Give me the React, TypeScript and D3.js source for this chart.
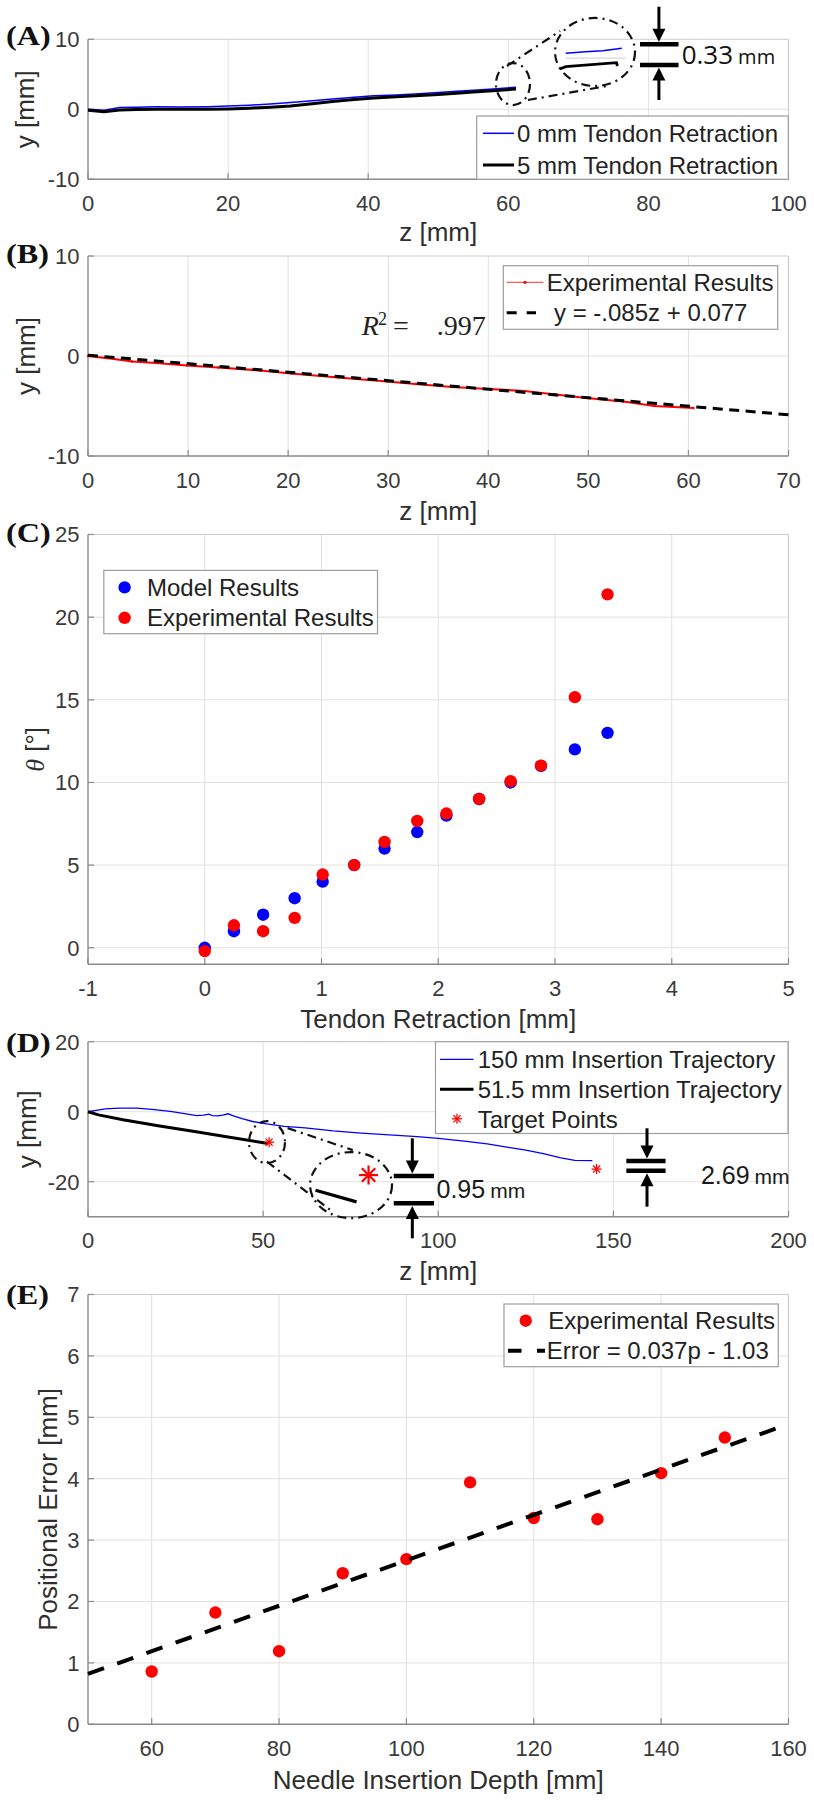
import React from 'react';
import * as d3 from 'd3';

const SANS = "'Liberation Sans', Arial, Helvetica, sans-serif";
const SERIF = "'Liberation Serif', 'Times New Roman', serif";
const OPEN = "'Open Sans', 'Liberation Sans', sans-serif";
const TICK_C = '#3a3a3a';
const LABEL_C = '#2e2e2e';
const AXIS_C = '#8a8a8a';
const BOX_C = '#cccccc';
const GRID_C = '#e0e0e0';
const LEG_BORDER = '#9e9e9e';
const BLUE = '#0000ff';
const RED = '#ff0000';
const DASHDOT = '9,5,2,5';

const PL = 88;
const PR = 788.5;

// ---------------- Panel (A) ----------------
const aZ = [0, 2.3, 4.5, 7, 9.7, 13, 17.1, 20, 23, 26, 28.9, 32, 34.9, 38, 40.8, 44, 46.7, 50, 52.6, 55, 57.8, 61.1];
const aYRet0 = [0, -0.15, 0.24, 0.3, 0.34, 0.32, 0.36, 0.45, 0.58, 0.76, 0.97, 1.2, 1.45, 1.72, 1.93, 2.05, 2.17, 2.38, 2.56, 2.72, 2.9, 3.14];
const aYRet5 = [-0.15, -0.34, -0.12, -0.05, 0, 0, 0, 0.05, 0.15, 0.3, 0.48, 0.8, 1.1, 1.38, 1.59, 1.78, 1.93, 2.1, 2.27, 2.45, 2.66, 2.9];
const aXTicks = [0, 20, 40, 60, 80, 100];
const aYTicks = [-10, 0, 10];
const aLegend = ['0 mm Tendon Retraction', '5 mm Tendon Retraction'];

// ---------------- Panel (B) ----------------
const bZ = [0, 2.6, 4.4, 6.8, 9.9, 13, 17.2, 20.3, 25, 29.9, 32.7, 36.4, 40, 43.6, 46.7, 49.8, 53.5, 56.6, 60.5];
const bY = [0, -0.3, -0.55, -0.7, -0.95, -1.15, -1.45, -1.75, -2.15, -2.55, -2.8, -3.1, -3.3, -3.5, -3.85, -4.2, -4.55, -5.0, -5.2];
const bFitZ = [0, 70];
const bFitY = [0.077, -5.873];
const bXTicks = [0, 10, 20, 30, 40, 50, 60, 70];
const bYTicks = [-10, 0, 10];
const bLegend = ['Experimental Results', 'y = -.085z + 0.077'];

// ---------------- Panel (C) ----------------
const cRetraction = [0, 0.25, 0.5, 0.77, 1.01, 1.28, 1.54, 1.82, 2.07, 2.35, 2.62, 2.88, 3.17, 3.45];
const cModel = [0, 1, 2, 3, 4, 5, 6, 7, 8, 9, 10, 11, 12, 13];
const cExperimental = [-0.2, 1.36, 1.0, 1.81, 4.43, 5.0, 6.4, 7.67, 8.12, 9.0, 10.08, 11.02, 15.16, 21.38];
const cXTicks = [-1, 0, 1, 2, 3, 4, 5];
const cYTicks = [0, 5, 10, 15, 20, 25];
const cLegend = ['Model Results', 'Experimental Results'];

// ---------------- Panel (D) ----------------
const dZ150 = [0, 5, 9, 14, 19, 24, 28, 31, 33, 34.5, 35.5, 37, 38.5, 40, 41.5, 44, 47, 51, 56, 62, 70, 78, 86, 94, 100, 108, 114, 120, 125, 130, 135, 139, 144];
const dY150 = [0, 0.8, 1.0, 1.0, 0.6, 0.0, -0.6, -1.1, -1.0, -0.7, -1.1, -1.2, -1.0, -0.6, -1.2, -2.0, -2.8, -3.5, -4.2, -4.6, -5.5, -6.1, -6.6, -7.1, -7.6, -8.5, -9.2, -10.2, -11.0, -12.0, -13.2, -13.9, -14.0];
const dZ51 = [0, 3, 10, 20, 30, 40, 51.5];
const dY51 = [0, -0.9, -2.3, -4.0, -5.6, -7.2, -9.1];
const dTargetZ = [51.7, 145.2];
const dTargetY = [-8.7, -16.4];
const dXTicks = [0, 50, 100, 150, 200];
const dYTicks = [-20, 0, 20];
const dLegend = ['150 mm Insertion Trajectory', '51.5 mm Insertion Trajectory', 'Target Points'];

// ---------------- Panel (E) ----------------
const eDepth = [60, 70, 80, 90, 100, 110, 120, 130, 140, 150];
const eError = [0.86, 1.82, 1.19, 2.46, 2.69, 3.94, 3.36, 3.34, 4.09, 4.67];
const eFitP = [50, 160];
const eFitE = [0.82, 4.89];
const eXTicks = [60, 80, 100, 120, 140, 160];
const eYTicks = [0, 1, 2, 3, 4, 5, 6, 7];
const eLegend = ['Experimental Results', 'Error = 0.037p - 1.03'];

type Sc = d3.ScaleLinear<number, number>;

const pairs = (xs: number[], ys: number[]) => xs.map((x, i) => [x, ys[i]] as [number, number]);

function lineFor(xs: Sc, ys: Sc) {
  return d3.line<[number, number]>().x(d => xs(d[0])).y(d => ys(d[1]));
}

function Axes(p: {
  xs: Sc; ys: Sc; xTicks: number[]; yTicks: number[];
  xLabel: string; xLabelY: number; yLabel: React.ReactNode; yLabelX: number;
  tag: string; tagY: number;
}) {
  const [x0, x1] = p.xs.range();
  const [yb, yt] = p.ys.range();
  const cx = (x0 + x1) / 2;
  const cy = (yb + yt) / 2;
  return (
    <g>
      {p.xTicks.filter(t => Math.abs(p.xs(t) - x0) > 1 && Math.abs(p.xs(t) - x1) > 1).map(t => (
        <line key={'gx' + t} x1={p.xs(t)} x2={p.xs(t)} y1={yt} y2={yb} stroke={GRID_C} strokeWidth={1} />
      ))}
      {p.yTicks.filter(t => Math.abs(p.ys(t) - yb) > 1 && Math.abs(p.ys(t) - yt) > 1).map(t => (
        <line key={'gy' + t} x1={x0} x2={x1} y1={p.ys(t)} y2={p.ys(t)} stroke={GRID_C} strokeWidth={1} />
      ))}
      <line x1={x0} x2={x1} y1={yt} y2={yt} stroke={BOX_C} strokeWidth={1.2} />
      <line x1={x1} x2={x1} y1={yt} y2={yb} stroke={BOX_C} strokeWidth={1.2} />
      <line x1={x0} x2={x1} y1={yb} y2={yb} stroke={AXIS_C} strokeWidth={1.4} />
      <line x1={x0} x2={x0} y1={yt} y2={yb} stroke={AXIS_C} strokeWidth={1.4} />
      {p.xTicks.map(t => (
        <g key={'tx' + t}>
          <line x1={p.xs(t)} x2={p.xs(t)} y1={yb} y2={yb - 6} stroke={AXIS_C} strokeWidth={1.2} />
          <text x={p.xs(t)} y={yb + 31.5} textAnchor="middle" fontFamily={SANS} fontSize={22} fill={TICK_C}>{String(t)}</text>
        </g>
      ))}
      {p.yTicks.map(t => (
        <g key={'ty' + t}>
          <line x1={x0} x2={x0 + 6} y1={p.ys(t)} y2={p.ys(t)} stroke={AXIS_C} strokeWidth={1.2} />
          <text x={x0 - 8.5} y={p.ys(t) + 7.9} textAnchor="end" fontFamily={SANS} fontSize={22} fill={TICK_C}>{String(t)}</text>
        </g>
      ))}
      <text x={cx} y={p.xLabelY} textAnchor="middle" fontFamily={SANS} fontSize={26} fill={LABEL_C}>{p.xLabel}</text>
      <text transform={`translate(${p.yLabelX},${cy}) rotate(-90)`} textAnchor="middle" fontFamily={SANS} fontSize={26} fill={LABEL_C}>{p.yLabel}</text>
      <text transform={`translate(6,${p.tagY}) scale(1.15,1)`} fontFamily={SERIF} fontWeight="bold" fontSize={28} fill="#111">{p.tag}</text>
    </g>
  );
}

function LegendBox(p: { x1: number; x2: number; y1: number; y2: number; children?: React.ReactNode }) {
  return (
    <g>
      <rect x={p.x1} y={p.y1} width={p.x2 - p.x1} height={p.y2 - p.y1} fill="#fff" stroke={LEG_BORDER} strokeWidth={1.2} />
      {p.children}
    </g>
  );
}

function LegText(p: { x: number; y: number; t: string }) {
  return <text x={p.x} y={p.y + 8.5} fontFamily={SANS} fontSize={24} fill="#222">{p.t}</text>;
}

function Star(p: { cx: number; cy: number; r: number; w: number }) {
  const angles = [0, 45, 90, 135];
  return (
    <g stroke={RED} strokeWidth={p.w}>
      {angles.map(a => {
        const dx = Math.cos((a * Math.PI) / 180) * p.r;
        const dy = Math.sin((a * Math.PI) / 180) * p.r;
        return <line key={a} x1={p.cx - dx} y1={p.cy - dy} x2={p.cx + dx} y2={p.cy + dy} />;
      })}
    </g>
  );
}

function VArrow(p: { x: number; from: number; tip: number }) {
  const dir = p.tip > p.from ? 1 : -1;
  const head = 13;
  const hw = 6.5;
  return (
    <g>
      <line x1={p.x} x2={p.x} y1={p.from} y2={p.tip - dir * (head - 2)} stroke="#000" strokeWidth={3} />
      <polygon points={`${p.x},${p.tip} ${p.x - hw},${p.tip - dir * head} ${p.x + hw},${p.tip - dir * head}`} fill="#000" />
    </g>
  );
}

function Bar(p: { x1: number; x2: number; y: number }) {
  return <line x1={p.x1} x2={p.x2} y1={p.y} y2={p.y} stroke="#000" strokeWidth={4.5} />;
}

function DDEllipse(p: { xs: Sc; ys: Sc; c: number[]; r: number[] }) {
  const cx = p.xs(p.c[0]);
  const cy = p.ys(p.c[1]);
  const rx = Math.abs(p.xs(p.c[0] + p.r[0]) - cx);
  const ry = Math.abs(p.ys(p.c[1] + p.r[1]) - cy);
  return <ellipse cx={cx} cy={cy} rx={rx} ry={ry} fill="none" stroke="#111" strokeWidth={2.2} strokeDasharray={DASHDOT} />;
}

function DDLine(p: { xs: Sc; ys: Sc; a: number[]; b: number[] }) {
  return <line x1={p.xs(p.a[0])} y1={p.ys(p.a[1])} x2={p.xs(p.b[0])} y2={p.ys(p.b[1])} stroke="#111" strokeWidth={2.2} strokeDasharray={DASHDOT} />;
}

// annotation geometry (data units)
const aSmallC = [60.67, 3.6], aSmallR = [2.43, 3.0];
const aBigC = [72.38, 8.18], aBigR = [5.71, 4.86];
const aConnTop = [[59.8, 6.18], [67.4, 11.18]];
const aConnBot = [[62.8, 1.32], [74.1, 3.32]];
const aInsetBlue = [[68.2, 7.99], [71, 8.2], [73.5, 8.35], [76.2, 8.71]];
const aInsetBlack = [[67.36, 5.75], [68.2, 6.08], [75.44, 6.65], [75.58, 6.18]];
const aBarZ = [78.8, 84.3], aBarY = [9.28, 6.32], aArrowZ = 81.5, aArrowFrom = [14.65, 1.32];
const aTextPos = [84.75, 6.51];

const dSmallC = [51.1, -8.71], dSmallR = [5.14, 6.0];
const dBigC = [75.1, -20.97], dBigR = [11.7, 9.43];
const dConnTop = [[57.0, -4.69], [75.6, -10.97]];
const dConnBot = [[51.1, -14.29], [69.2, -28.09]];
const dInset = [[64.96, -22.43], [76.67, -25.77]];
const dInsetStar = [80.1, -18.1];
const dBar1Z = [87.3, 98.8], dBar1Y = [-18.37, -26.17], dArrow1Z = 92.6, dArrow1From = [-7.6, -36.17];
const dText1 = [99.5, -24.74];
const dBar2Z = [153.7, 164.9], dBar2Y = [-14.09, -16.86], dArrow2Z = 159.6, dArrow2From = [-4.74, -27.14];
const dText2 = [175, -20.66];

export default function App() {
  const xA = d3.scaleLinear().domain([0, 100]).range([PL, PR]);
  const yA = d3.scaleLinear().domain([-10, 10]).range([179.25, 39.25]);
  const xB = d3.scaleLinear().domain([0, 70]).range([PL, PR]);
  const yB = d3.scaleLinear().domain([-10, 10]).range([456, 256]);
  const xC = d3.scaleLinear().domain([-1, 5]).range([PL, PR]);
  const yC = d3.scaleLinear().domain([-1, 25]).range([964.3, 534.5]);
  const xD = d3.scaleLinear().domain([0, 200]).range([PL, PR]);
  const yD = d3.scaleLinear().domain([-30, 20]).range([1216.7, 1041.7]);
  const xE = d3.scaleLinear().domain([50, 160]).range([PL, PR]);
  const yE = d3.scaleLinear().domain([0, 7]).range([1724.3, 1294.5]);

  const lA = lineFor(xA, yA);
  const lB = lineFor(xB, yB);
  const lD = lineFor(xD, yD);
  const lE = lineFor(xE, yE);

  return (
    <svg width={814} height={1800} viewBox="0 0 814 1800" style={{ position: 'absolute', left: 0, top: 0, display: 'block' }}>
      <rect x={0} y={0} width={814} height={1800} fill="#fff" />

      {/* ---------- A ---------- */}
      <Axes xs={xA} ys={yA} xTicks={aXTicks} yTicks={aYTicks} xLabel="z [mm]" xLabelY={241} yLabel="y [mm]" yLabelX={34} tag="(A)" tagY={45} />
      <path d={lA(pairs(aZ, aYRet0)) || ''} fill="none" stroke={BLUE} strokeWidth={1.5} />
      <path d={lA(pairs(aZ, aYRet5)) || ''} fill="none" stroke="#000" strokeWidth={3} />
      <LegendBox x1={476.7} x2={788.3} y1={116} y2={179.25}>
        <line x1={483} x2={514} y1={133.3} y2={133.3} stroke={BLUE} strokeWidth={1.5} />
        <LegText x={517} y={133.3} t={aLegend[0]} />
        <line x1={483} x2={514} y1={165} y2={165} stroke="#000" strokeWidth={3} />
        <LegText x={517} y={165} t={aLegend[1]} />
      </LegendBox>
      <DDEllipse xs={xA} ys={yA} c={aSmallC} r={aSmallR} />
      <DDEllipse xs={xA} ys={yA} c={aBigC} r={aBigR} />
      <DDLine xs={xA} ys={yA} a={aConnTop[0]} b={aConnTop[1]} />
      <DDLine xs={xA} ys={yA} a={aConnBot[0]} b={aConnBot[1]} />
      <line x1={xA(68.2)} x2={xA(76.8)} y1={yA(7.3)} y2={yA(7.3)} stroke="#d8d8d8" strokeWidth={1.2} />
      <path d={lA(aInsetBlue as [number, number][]) || ''} fill="none" stroke={BLUE} strokeWidth={1.5} />
      <path d={lA(aInsetBlack as [number, number][]) || ''} fill="none" stroke="#000" strokeWidth={2.8} />
      <Bar x1={xA(aBarZ[0])} x2={xA(aBarZ[1])} y={yA(aBarY[0])} />
      <Bar x1={xA(aBarZ[0])} x2={xA(aBarZ[1])} y={yA(aBarY[1])} />
      <VArrow x={xA(aArrowZ)} from={yA(aArrowFrom[0])} tip={yA(aBarY[0]) - 2.6} />
      <VArrow x={xA(aArrowZ)} from={yA(aArrowFrom[1])} tip={yA(aBarY[1]) + 2.6} />
      <text x={xA(aTextPos[0])} y={yA(aTextPos[1])} fontFamily={OPEN} fill="#111">
        <tspan fontSize={26}>0.33</tspan>
        <tspan fontSize={20} dx={5}>mm</tspan>
      </text>

      {/* ---------- B ---------- */}
      <Axes xs={xB} ys={yB} xTicks={bXTicks} yTicks={bYTicks} xLabel="z [mm]" xLabelY={519.5} yLabel="y [mm]" yLabelX={35} tag="(B)" tagY={263} />
      <path d={lB(pairs(bZ, bY)) || ''} fill="none" stroke={RED} strokeWidth={2.2} />
      {bZ.map((z, i) => (
        <circle key={'bm' + i} cx={xB(z)} cy={yB(bY[i])} r={1.3} fill={RED} />
      ))}
      <path d={lB(pairs(bFitZ, bFitY)) || ''} fill="none" stroke="#000" strokeWidth={3} strokeDasharray="10,6.5" />
      <LegendBox x1={503.3} x2={777.7} y1={265.7} y2={329.3}>
        <line x1={506.7} x2={543.3} y1={282.3} y2={282.3} stroke="#ff5a5a" strokeWidth={1.3} />
        <circle cx={525} cy={282.3} r={1.6} fill={RED} />
        <LegText x={546.7} y={282.3} t={bLegend[0]} />
        <line x1={506.7} x2={536} y1={312.7} y2={312.7} stroke="#000" strokeWidth={3} strokeDasharray="10,10" />
        <LegText x={554} y={312.7} t={bLegend[1]} />
      </LegendBox>
      <text x={361.7} y={335} fontFamily={SERIF} fontSize={28} fill="#222">
        <tspan fontStyle="italic">R</tspan>
      </text>
      <text x={378} y={325} fontFamily={SERIF} fontSize={18} fill="#222">2</text>
      <text x={393} y={335} fontFamily={SERIF} fontSize={28} fill="#222">=</text>
      <text x={436.7} y={335} fontFamily={SERIF} fontSize={28} fill="#222">.997</text>

      {/* ---------- C ---------- */}
      <Axes xs={xC} ys={yC} xTicks={cXTicks} yTicks={cYTicks} xLabel="Tendon Retraction [mm]" xLabelY={1027.5}
        yLabel={<><tspan fontFamily={SERIF} fontStyle="italic">θ</tspan><tspan> [°]</tspan></>} yLabelX={44} tag="(C)" tagY={542} />
      {cRetraction.map((x, i) => (
        <circle key={'cm' + i} cx={xC(x)} cy={yC(cModel[i])} r={6.2} fill={BLUE} />
      ))}
      {cRetraction.map((x, i) => (
        <circle key={'ce' + i} cx={xC(x)} cy={yC(cExperimental[i])} r={6.2} fill={RED} />
      ))}
      <LegendBox x1={103.8} x2={377.5} y1={570.4} y2={633.7}>
        <circle cx={124.6} cy={587.4} r={6.2} fill={BLUE} />
        <LegText x={147} y={587.4} t={cLegend[0]} />
        <circle cx={124.6} cy={617.8} r={6.2} fill={RED} />
        <LegText x={147} y={617.8} t={cLegend[1]} />
      </LegendBox>

      {/* ---------- D ---------- */}
      <Axes xs={xD} ys={yD} xTicks={dXTicks} yTicks={dYTicks} xLabel="z [mm]" xLabelY={1279.5} yLabel="y [mm]" yLabelX={36} tag="(D)" tagY={1051.5} />
      <path d={lD(pairs(dZ150, dY150)) || ''} fill="none" stroke={BLUE} strokeWidth={1.3} />
      <path d={lD(pairs(dZ51, dY51)) || ''} fill="none" stroke="#000" strokeWidth={3} />
      {dTargetZ.map((z, i) => (
        <Star key={'dt' + i} cx={xD(z)} cy={yD(dTargetY[i])} r={5} w={1.3} />
      ))}
      <LegendBox x1={435.5} x2={788} y1={1041.7} y2={1133.5}>
        <line x1={440} x2={473.5} y1={1059.3} y2={1059.3} stroke={BLUE} strokeWidth={1.3} />
        <LegText x={477.7} y={1059.3} t={dLegend[0]} />
        <line x1={440} x2={473.5} y1={1089.3} y2={1089.3} stroke="#000" strokeWidth={3} />
        <LegText x={477.7} y={1089.3} t={dLegend[1]} />
        <Star cx={457} cy={1118.8} r={5} w={1.3} />
        <LegText x={477.7} y={1119.3} t={dLegend[2]} />
      </LegendBox>
      <DDEllipse xs={xD} ys={yD} c={dSmallC} r={dSmallR} />
      <DDEllipse xs={xD} ys={yD} c={dBigC} r={dBigR} />
      <DDLine xs={xD} ys={yD} a={dConnTop[0]} b={dConnTop[1]} />
      <DDLine xs={xD} ys={yD} a={dConnBot[0]} b={dConnBot[1]} />
      <path d={lD(dInset as [number, number][]) || ''} fill="none" stroke="#000" strokeWidth={3.2} />
      <Star cx={xD(dInsetStar[0])} cy={yD(dInsetStar[1])} r={9.5} w={2.2} />
      <Bar x1={xD(dBar1Z[0])} x2={xD(dBar1Z[1])} y={yD(dBar1Y[0])} />
      <Bar x1={xD(dBar1Z[0])} x2={xD(dBar1Z[1])} y={yD(dBar1Y[1])} />
      <VArrow x={xD(dArrow1Z)} from={yD(dArrow1From[0])} tip={yD(dBar1Y[0]) - 2.6} />
      <VArrow x={xD(dArrow1Z)} from={yD(dArrow1From[1])} tip={yD(dBar1Y[1]) + 2.6} />
      <text x={xD(dText1[0])} y={yD(dText1[1])} fontFamily={SANS} fill="#1a1a1a">
        <tspan fontSize={25}>0.95</tspan>
        <tspan fontSize={21} dx={5}>mm</tspan>
      </text>
      <Bar x1={xD(dBar2Z[0])} x2={xD(dBar2Z[1])} y={yD(dBar2Y[0])} />
      <Bar x1={xD(dBar2Z[0])} x2={xD(dBar2Z[1])} y={yD(dBar2Y[1])} />
      <VArrow x={xD(dArrow2Z)} from={yD(dArrow2From[0])} tip={yD(dBar2Y[0]) - 2.6} />
      <VArrow x={xD(dArrow2Z)} from={yD(dArrow2From[1])} tip={yD(dBar2Y[1]) + 2.6} />
      <text x={xD(dText2[0])} y={yD(dText2[1])} fontFamily={SANS} fill="#1a1a1a">
        <tspan fontSize={25}>2.69</tspan>
        <tspan fontSize={21} dx={5}>mm</tspan>
      </text>

      {/* ---------- E ---------- */}
      <Axes xs={xE} ys={yE} xTicks={eXTicks} yTicks={eYTicks} xLabel="Needle Insertion Depth [mm]" xLabelY={1788.5} yLabel="Positional Error [mm]" yLabelX={56.5} tag="(E)" tagY={1304} />
      {eDepth.map((p, i) => (
        <circle key={'ed' + i} cx={xE(p)} cy={yE(eError[i])} r={6.2} fill={RED} />
      ))}
      <path d={lE(pairs(eFitP, eFitE)) || ''} fill="none" stroke="#000" strokeWidth={4} strokeDasharray="17,14" />
      <LegendBox x1={504} x2={778.3} y1={1304} y2={1366.7}>
        <circle cx={525.7} cy={1320.7} r={6.2} fill={RED} />
        <LegText x={548.3} y={1320.7} t={eLegend[0]} />
        <line x1={508} x2={545} y1={1350.7} y2={1350.7} stroke="#000" strokeWidth={4} strokeDasharray="13.5,15.5" />
        <LegText x={546.7} y={1350.7} t={eLegend[1]} />
      </LegendBox>
    </svg>
  );
}
